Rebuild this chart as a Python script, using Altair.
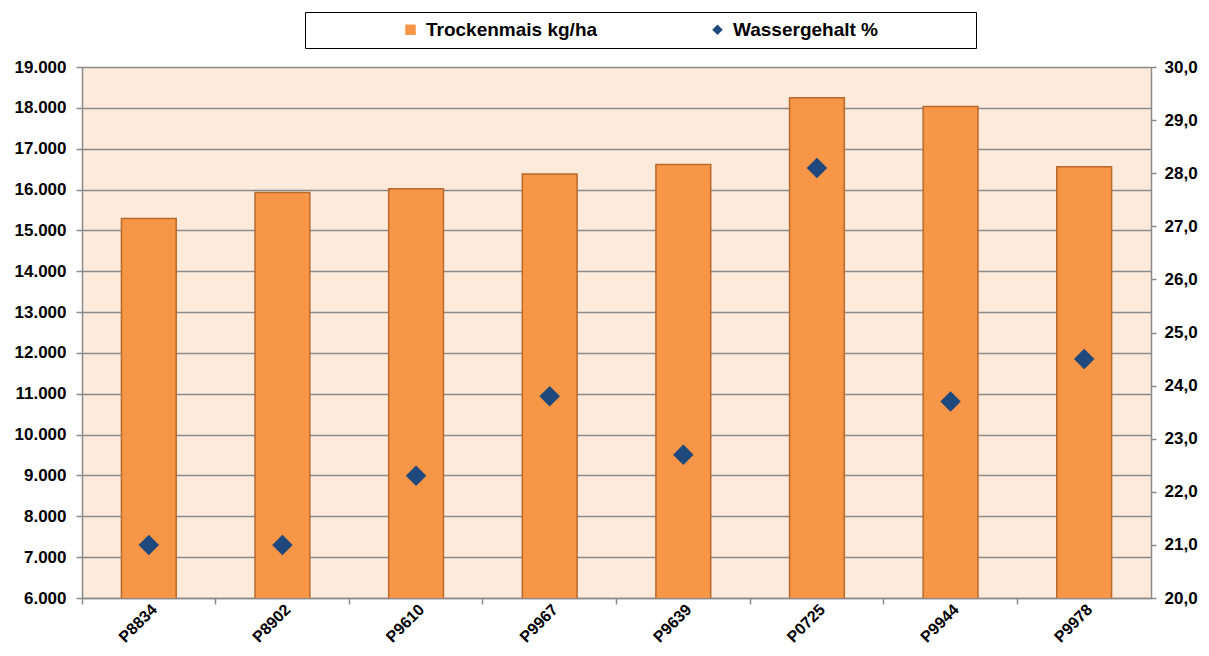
import altair as alt
import pandas as pd

# ---- data ----
sorten = ["P8834", "P8902", "P9610", "P9967", "P9639", "P0725", "P9944", "P9978"]
trockenmais = [15290, 15930, 16020, 16380, 16610, 18250, 18030, 16560]
wassergehalt = [21.0, 21.0, 22.3, 23.8, 22.7, 28.1, 23.7, 24.5]
serien = ["Trockenmais kg/ha", "Wassergehalt %"]
links_ticks = [6000, 7000, 8000, 9000, 10000, 11000, 12000, 13000,
               14000, 15000, 16000, 17000, 18000, 19000]
rechts_ticks = [20, 21, 22, 23, 24, 25, 26, 27, 28, 29, 30]

df_bar = pd.DataFrame({"Sorte": sorten, "Wert": trockenmais, "Serie": serien[0]})
df_pt = pd.DataFrame({"Sorte": sorten, "Wert": wassergehalt, "Serie": serien[1]})

FONT = "Liberation Sans"
GRID = "#8a8a8a"
AX_FS = 17

x_scale = alt.Scale(domain=sorten, paddingInner=0, paddingOuter=0)
color_scale = alt.Scale(domain=serien, range=["#F79646", "#1F497D"])
shape_scale = alt.Scale(domain=serien, range=["square", "diamond"])

pad = " " * 17 + "\u200b"
legend = alt.Legend(
    title=" ", titleOrient="left", titlePadding=88, titleFontSize=17,
    orient="none", legendX=223, legendY=-55, direction="horizontal",
    strokeColor="black", fillColor="white", padding=8,
    labelFont=FONT, labelFontSize=19, labelFontWeight="bold", labelColor="black",
    labelOffset=6, symbolSize=110, symbolStrokeWidth=0, columnPadding=110,
    labelLimit=600,
    labelExpr="datum.label == 'Wassergehalt %' ? datum.label + '" + pad + "' : datum.label",
)

bars = alt.Chart(df_bar).mark_bar(
    width=alt.RelativeBandSize(0.41), stroke="#B8692C", strokeWidth=1.5, clip=True
).encode(
    x=alt.X("Sorte:N", scale=x_scale, axis=alt.Axis(
        title=None, orient="bottom", labelAngle=-45, ticks=False, grid=False,
        domain=True, domainColor=GRID, domainWidth=1.5,
        labelFont=FONT, labelFontSize=16, labelFontWeight="bold",
        labelColor="black", labelPadding=3)),
    y=alt.Y("Wert:Q", scale=alt.Scale(domain=[6000, 19000], nice=False, zero=False),
            axis=alt.Axis(
                title=None, orient="left", values=links_ticks,
                labelExpr="replace(format(datum.value, ',.0f'), ',', '.')",
                grid=True, gridColor=GRID, gridWidth=1.5,
                domain=True, domainColor=GRID, domainWidth=1.5,
                ticks=True, tickSize=6, tickColor=GRID, tickWidth=1.5,
                labelFont=FONT, labelFontSize=AX_FS, labelFontWeight="bold",
                labelColor="black", labelPadding=10)),
    color=alt.Color("Serie:N", scale=color_scale, legend=legend),
)

points = alt.Chart(df_pt).mark_point(filled=True, size=420, opacity=1).encode(
    x=alt.X("Sorte:N", scale=x_scale, axis=alt.Axis(
        title=None, orient="bottom", bandPosition=0, labels=False, grid=False,
        domain=False, ticks=True, tickSize=6, tickColor=GRID, tickWidth=1.5)),
    y=alt.Y("Wert:Q", scale=alt.Scale(domain=[20, 30], nice=False, zero=False),
            axis=alt.Axis(
                title=None, orient="right", values=rechts_ticks,
                labelExpr="replace(format(datum.value, '.1f'), '.', ',')",
                grid=False, domain=True, domainColor=GRID, domainWidth=1.5,
                ticks=True, tickSize=5, tickColor=GRID, tickWidth=1.5,
                labelFont=FONT, labelFontSize=AX_FS, labelFontWeight="bold",
                labelColor="black", labelPadding=8)),
    color=alt.Color("Serie:N", scale=color_scale, legend=legend),
    shape=alt.Shape("Serie:N", scale=shape_scale, legend=legend),
)

chart = alt.layer(bars, points).resolve_scale(y="independent").resolve_axis(
    x="independent"
).properties(
    width=1069, height=531,
    autosize=alt.AutoSizeParams(type="none"),
    padding={"left": 74, "top": 59, "right": 50, "bottom": 46},
    background="white",
).configure_view(stroke=None, fill="#FDEADA")

chart.save("out.html", embed_options={"renderer": "svg", "actions": False})
